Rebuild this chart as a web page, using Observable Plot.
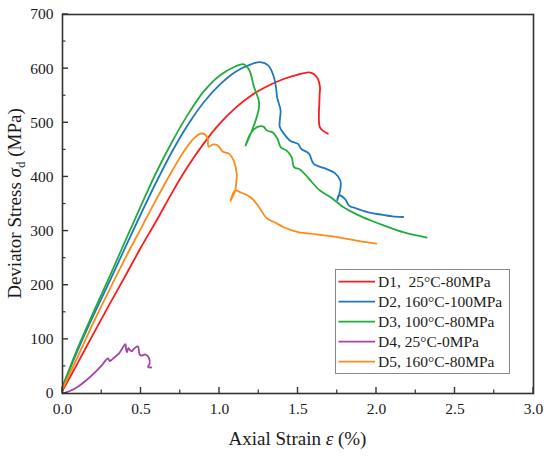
<!DOCTYPE html>
<html>
<head>
<meta charset="utf-8">
<script src="https://cdn.jsdelivr.net/npm/d3@7"></script>
<script src="https://cdn.jsdelivr.net/npm/@observablehq/plot@0.6"></script>
<style>
  html, body { margin: 0; padding: 0; background: #fff; }
</style>
</head>
<body>
<div id="chart"></div>
<script>
// ---- data ----
const seriesNames = ["D1,  25°C-80MPa", "D2, 160°C-100MPa", "D3, 100°C-80MPa", "D4, 25°C-0MPa", "D5, 160°C-80MPa"];

const d1 = [[0,5],[0.1,58],[0.2,112],[0.3,165],[0.4,217],[0.5,270],[0.6,320],[0.7,372],[0.8,420],[0.9,462],[1.0,498],[1.1,527],[1.2,550],[1.3,567],[1.4,580],[1.5,589],[1.57,593],[1.6,590],[1.625,582],[1.64,566],[1.638,553],[1.635,530],[1.633,517],[1.639,492],[1.66,485],[1.69,480]];

const d2 = [[0,12],[0.1,82],[0.2,146],[0.3,207],[0.4,270],[0.5,332],[0.6,392],[0.7,448],[0.8,497],[0.9,538],[1.0,570],[1.1,594],[1.2,608],[1.26,612],[1.31,606],[1.345,586],[1.36,565],[1.367,547],[1.389,523],[1.384,504],[1.384,492],[1.41,480],[1.45,467],[1.5,461],[1.52,452],[1.57,443],[1.6,424],[1.68,415],[1.735,407],[1.77,393],[1.77,378],[1.76,366],[1.75,357],[1.76,366],[1.8,359],[1.825,347],[1.87,342],[1.91,338],[1.97,333],[2.04,330],[2.1,327],[2.17,326]];

const d3s = [[0,12],[0.1,86],[0.2,152],[0.3,216],[0.4,282],[0.5,347],[0.6,410],[0.7,466],[0.8,516],[0.9,558],[1.0,587],[1.1,604],[1.155,608],[1.19,597],[1.22,566],[1.25,541],[1.252,529],[1.23,504],[1.2,481],[1.166,458],[1.2,481],[1.24,492],[1.28,493],[1.3,486],[1.34,482],[1.37,470],[1.39,455],[1.43,448],[1.46,436],[1.475,418],[1.51,414],[1.56,400],[1.58,393],[1.64,375],[1.71,362],[1.79,344],[1.88,330],[1.96,320],[2.05,310],[2.17,298],[2.32,288]];

const d4 = [[0,0],[0.05,5],[0.1,13],[0.15,24],[0.2,37],[0.25,52],[0.29,65],[0.3,60],[0.32,64],[0.36,74],[0.4,91],[0.405,82],[0.41,76],[0.42,84],[0.43,80],[0.44,78],[0.46,84],[0.48,87],[0.49,73],[0.5,70],[0.53,72],[0.55,66],[0.555,55],[0.545,49],[0.565,48]];

const d5 = [[0,8],[0.1,70],[0.2,133],[0.3,192],[0.4,250],[0.5,305],[0.6,360],[0.7,412],[0.78,450],[0.84,472],[0.88,480],[0.91,478],[0.925,470],[0.93,456],[0.96,460],[0.99,458],[1.02,447],[1.06,443],[1.09,430],[1.11,405],[1.105,385],[1.1,375],[1.07,356],[1.1,375],[1.13,372],[1.2,362],[1.25,345],[1.3,324],[1.36,315],[1.41,307],[1.5,298],[1.62,294],[1.77,288],[1.92,280],[2.0,277]];

const xMajorTicks = [0, 0.5, 1.0, 1.5, 2.0, 2.5, 3.0];
const xMinorTicks = [0.25, 0.75, 1.25, 1.75, 2.25, 2.75];
const yMajorTicks = [0, 100, 200, 300, 400, 500, 600, 700];
const yMinorTicks = [50, 150, 250, 350, 450, 550, 650];

const xTitleParts = ["Axial Strain ", "ε", " (%)"];
const yTitleParts = ["Deviator Stress ", "σ", "d", " (MPa)"];

// ---- styles ----
const colors = ["#fa1c1c", "#1f78bd", "#21ad3c", "#a245a6", "#ff8a17"];
const font = "'Liberation Serif', 'Times New Roman', serif";

const allSeries = [d1, d2, d3s, d4, d5];
const table = allSeries.flatMap((s, i) => s.map(([x, y]) => ({series: seriesNames[i], x, y})));

const W = 550, H = 460;
const mL = 62, mR = 17, mT = 14, mB = 67;

const plot = Plot.plot({
  width: W,
  height: H,
  marginLeft: mL,
  marginRight: mR,
  marginTop: mT,
  marginBottom: mB,
  style: {fontFamily: font, fontSize: "15.5px", color: "#1a1a1a", background: "#fff"},
  x: {domain: [0, 3]},
  y: {domain: [0, 700]},
  color: {domain: seriesNames, range: colors},
  marks: [
    Plot.line(table, {x: "x", y: "y", z: "series", stroke: "series", strokeWidth: 1.8, curve: "catmull-rom"}),
    Plot.axisX(xMajorTicks, {tickSize: 0, tickPadding: 9, tickFormat: d3.format(".1f"), label: null, fontSize: 15.5, fontFamily: font}),
    Plot.axisY(yMajorTicks, {tickSize: 0, tickPadding: 9, tickFormat: d3.format("d"), label: null, fontSize: 15.5, fontFamily: font}),
    Plot.frame({stroke: "#333", strokeWidth: 1.6})
  ]
});

document.getElementById("chart").appendChild(plot);

// ---- inward ticks, titles and legend ----
const svg = d3.select(plot);
svg.selectAll("text").attr("font-family", font).style("font-family", font).style("font-size", "15.5px");
const sx = plot.scale("x"), sy = plot.scale("y");
const x0 = sx.apply(0), y0 = sy.apply(0);

const tg = svg.append("g").attr("stroke", "#333");
xMajorTicks.forEach(v => tg.append("line").attr("x1", sx.apply(v)).attr("x2", sx.apply(v)).attr("y1", y0).attr("y2", y0 - 6).attr("stroke-width", 1.4));
xMinorTicks.forEach(v => tg.append("line").attr("x1", sx.apply(v)).attr("x2", sx.apply(v)).attr("y1", y0).attr("y2", y0 - 3.5).attr("stroke-width", 1.2));
yMajorTicks.forEach(v => tg.append("line").attr("y1", sy.apply(v)).attr("y2", sy.apply(v)).attr("x1", x0).attr("x2", x0 + 6).attr("stroke-width", 1.4));
yMinorTicks.forEach(v => tg.append("line").attr("y1", sy.apply(v)).attr("y2", sy.apply(v)).attr("x1", x0).attr("x2", x0 + 3.5).attr("stroke-width", 1.2));

const xt = svg.append("text")
  .attr("x", mL + (W - mL - mR) / 2)
  .attr("y", 445)
  .attr("text-anchor", "middle")
  .style("font-family", font)
  .style("font-size", "19px")
  .attr("fill", "#1a1a1a");
xt.append("tspan").text(xTitleParts[0]);
xt.append("tspan").attr("font-style", "italic").text(xTitleParts[1]);
xt.append("tspan").text(xTitleParts[2]);

const yt = svg.append("text")
  .attr("transform", `translate(21,${mT + (H - mT - mB) / 2}) rotate(-90)`)
  .attr("text-anchor", "middle")
  .style("font-family", font)
  .style("font-size", "19px")
  .attr("fill", "#1a1a1a");
yt.append("tspan").text(yTitleParts[0]);
yt.append("tspan").attr("font-style", "italic").text(yTitleParts[1]);
yt.append("tspan").style("font-size", "13px").attr("dy", 4).text(yTitleParts[2]);
yt.append("tspan").attr("dy", -4).text(yTitleParts[3]);

const lg = svg.append("g").attr("text-anchor", "start");
lg.append("rect")
  .attr("x", 335.5).attr("y", 269.5).attr("width", 174).attr("height", 104)
  .attr("fill", "#fff").attr("stroke", "#888").attr("stroke-width", 1);
seriesNames.forEach((name, i) => {
  const cy = 281.7 + i * 20;
  lg.append("line")
    .attr("x1", 338.5).attr("x2", 375).attr("y1", cy).attr("y2", cy)
    .attr("stroke", colors[i]).attr("stroke-width", 1.8);
  lg.append("text")
    .attr("x", 378).attr("y", cy + 5.5)
    .attr("text-anchor", "start")
    .style("font-family", font).style("font-size", "15.5px")
    .attr("fill", "#1a1a1a")
    .style("white-space", "pre")
    .text(name);
});
</script>
</body>
</html>
